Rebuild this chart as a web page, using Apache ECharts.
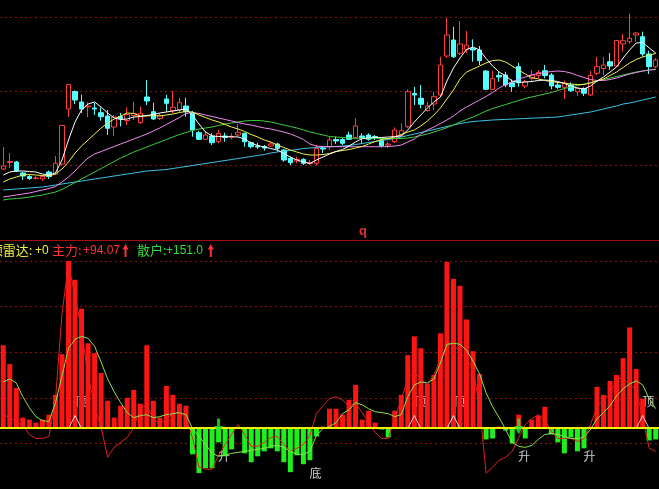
<!DOCTYPE html>
<html><head><meta charset="utf-8">
<script src="https://cdn.jsdelivr.net/npm/echarts@6.0.0/dist/echarts.min.js"></script>
<style>html,body{margin:0;padding:0;background:#000;overflow:hidden}#c{width:659px;height:489px}</style>
</head><body><div id="c"></div>
<script>
// ---------- DATA ----------
const opens = [13.10,13.75,13.80,12.70,12.35,12.15,12.10,12.80,12.60,13.60, 19.10,20.85,19.80,19.30,19.20,18.73,18.40,17.30,18.35,17.95, 18.45,17.75,20.30,18.83,18.15,20.10,18.93,19.00,19.40,18.67, 16.73,16.07,16.40,15.83,16.40,16.27,16.50,16.67,15.73,15.40, 15.35,15.40,15.60,15.00,14.17,13.90,14.07,13.65,13.67,15.20, 15.33,16.05,16.05,16.50,16.23,16.40,16.50,16.35,16.00,15.50, 15.83,16.50,17.33,20.65,20.17,18.95,19.60,20.50,24.40,26.00, 24.67,25.07,25.15,25.00,22.90,21.07,22.45,22.50,21.73,23.33, 21.40,22.17,22.45,22.93,22.50,21.50,21.27,21.50,20.83,21.15, 20.50,22.67,23.15,23.83,23.40,25.60,25.83,26.50,26.33,24.60, 23.33];
const closes = [13.40,13.85,12.90,12.40,12.15,12.20,12.35,12.35,13.67,17.45, 21.55,20.00,19.10,19.40,19.10,18.33,17.17,18.30,18.15,18.55, 18.65,18.67,19.90,18.10,18.45,19.67,19.27,19.73,18.83,17.00, 16.07,16.50,15.73,16.67,16.25,16.37,16.77,15.83,15.33,15.30, 15.20,15.60,15.17,14.00,13.73,14.05,13.67,13.75,15.17,15.10, 16.00,15.90,15.67,16.07,17.40,16.25,16.07,16.25,15.43,15.60, 17.00,16.93,20.83,20.50,19.57,19.40,20.33,23.50,26.50,24.33, 25.60,25.50,25.00,23.93,21.07,22.13,22.30,21.50,21.33,21.73, 21.83,22.50,22.75,22.45,21.40,21.27,21.65,20.93,21.17,20.67, 22.45,23.33,23.50,23.40,25.95,25.93,26.17,26.70,24.60,23.33, 24.00];
const lows = [13.00,13.20,12.80,12.00,12.00,12.05,11.90,12.10,12.50,13.50, 18.30,19.60,18.70,18.30,18.50,17.93,16.50,16.40,17.35,17.50, 18.00,17.60,19.50,18.00,18.00,18.83,18.70,18.80,18.33,16.33, 16.00,16.00,15.50,15.67,15.83,16.07,16.33,15.33,15.17,15.10, 14.93,15.33,14.83,13.83,13.50,13.67,13.50,13.50,13.50,14.70, 15.00,15.60,15.50,16.00,16.10,15.60,15.93,16.00,15.27,15.20, 15.70,16.40,17.20,19.50,19.17,18.83,19.00,20.30,24.20,24.20, 24.50,24.70,23.83,23.50,21.00,21.00,21.83,21.27,20.83,21.33, 21.17,21.83,22.20,22.17,21.07,21.07,20.10,20.80,20.40,20.40, 20.40,22.50,22.50,23.00,23.30,24.83,25.60,25.83,24.33,22.60, 23.20];
const highs = [15.30,14.70,13.90,12.80,12.50,12.40,12.50,12.95,14.40,17.50, 21.60,20.95,20.55,19.80,19.70,19.25,19.00,18.50,18.70,19.27, 19.83,19.33,22.00,19.73,18.70,20.50,20.90,20.23,20.23,18.90, 16.90,16.90,16.67,17.00,16.73,16.67,17.60,16.73,15.83,15.73, 15.50,15.83,15.73,15.10,14.33,14.33,14.17,14.00,15.50,15.40, 16.30,16.33,16.20,16.83,18.17,16.67,16.67,16.50,16.17,15.83, 17.27,17.67,21.07,21.30,21.50,19.83,20.83,24.33,28.17,27.33, 27.90,26.90,26.07,25.40,23.00,22.95,22.83,22.83,22.07,23.73, 22.00,23.00,23.00,23.50,22.70,21.80,21.95,21.77,21.27,21.27, 22.90,24.30,24.27,24.70,26.00,26.60,28.65,26.80,26.83,24.93, 24.20];

const ma5 = [12.5,12.8,12.9,12.9,12.85,12.8,12.6,12.5,12.7,14.0, 16.0,17.8,19.0,19.6,19.8,19.3,18.7,18.2,18.05,18.1, 18.3,18.35,18.45,18.55,18.7,18.8,18.9,19.0,19.1,18.5, 17.6,16.8,16.4,16.35,16.33,16.33,16.3,16.1,15.7,15.45, 15.3,15.15,15.0,14.65,14.3,14.0,13.8,13.65,14.0,14.3, 14.6,14.85,15.05,15.4,15.8,16.15,16.2,16.25,16.25,16.3, 16.33,16.4,17.0,17.8,18.5,19.2,19.8,20.3,21.9,23.2, 24.2,25.05,25.3,25.0,24.15,23.4,22.8,22.4,21.9,21.75, 21.8,21.85,21.95,22.0,21.95,21.85,21.65,21.4,21.2,21.1, 21.4,21.9,22.3,22.8,23.3,24.2,25.0,25.7,25.75,25.2, 24.7];
const ma10 = [11.8,12.1,12.3,12.5,12.55,12.5,12.45,12.4,12.6,13.1, 13.8,14.7,15.4,16.0,16.6,17.2,17.7,18.1,18.4,18.7, 18.65,18.4,18.4,18.45,18.4,18.5,18.6,18.75,18.85,18.8, 18.5,18.25,18.0,17.8,17.55,17.3,17.1,16.85,16.55,16.3, 16.0,15.8,15.5,15.25,15.0,14.8,14.6,14.5,14.5,14.55, 14.65,14.85,14.95,15.05,15.2,15.35,15.6,15.85,16.05,16.15, 16.3,16.55,16.8,17.0,17.4,17.9,18.5,19.2,20.1,21.0, 22.1,22.8,23.1,23.4,23.7,23.95,24.0,23.8,23.4,23.0, 22.6,22.25,22.1,21.95,21.85,21.75,21.7,21.6,21.55,21.55, 21.7,21.9,22.1,22.45,22.8,23.25,23.7,24.05,24.3,24.5, 24.65];
const ma20 = [10.3,10.4,10.5,10.6,10.7,10.85,11.0,11.15,11.35,11.8, 12.3,12.9,13.6,14.2,14.6,14.85,15.1,15.35,15.6,15.85, 16.1,16.35,16.6,16.9,17.2,17.55,17.9,18.25,18.65,18.75, 18.65,18.5,18.35,18.2,18.05,17.9,17.75,17.6,17.5,17.35, 17.2,17.1,16.95,16.8,16.6,16.35,16.05,15.6,15.4,15.33, 15.33,15.33,15.33,15.33,15.33,15.33,15.33,15.33,15.33,15.35, 15.4,15.5,15.8,16.1,16.6,17.0,17.3,17.65,18.0,18.4, 18.9,19.3,19.65,20.0,20.35,20.75,21.2,21.55,21.8,22.1, 22.3,22.5,22.65,22.75,22.85,22.9,22.85,22.7,22.45,22.25, 22.05,21.95,21.95,22.05,22.2,22.4,22.6,22.75,22.9,23.0, 23.05];
const ma60 = [10.0,10.1,10.15,10.2,10.3,10.4,10.5,10.65,10.8,11.05, 11.4,11.75,12.1,12.45,12.8,13.15,13.5,13.85,14.2,14.5, 14.8,15.05,15.3,15.55,15.8,16.05,16.3,16.55,16.75,16.95, 17.1,17.2,17.3,17.45,17.6,17.7,17.8,17.9,17.95,17.95, 17.9,17.8,17.65,17.5,17.35,17.2,17.0,16.8,16.65,16.5, 16.35,16.3,16.25,16.2,16.17,16.17,16.17,16.17,16.15,16.15, 16.15,16.15,16.2,16.3,16.45,16.6,16.8,17.0,17.25,17.5, 17.8,18.05,18.3,18.6,18.9,19.15,19.35,19.55,19.75,19.95, 20.15,20.3,20.45,20.6,20.75,20.95,21.15,21.3,21.45,21.6, 21.75,21.9,22.05,22.2,22.35,22.5,22.65,22.8,22.9,23.0, 23.1];
const ma120 = [11.0,11.05,11.1,11.15,11.2,11.25,11.3,11.4,11.5,11.6, 11.7,11.8,11.9,12.0,12.1,12.2,12.3,12.4,12.5,12.6, 12.7,12.8,12.9,12.95,13.0,13.05,13.15,13.25,13.35,13.45, 13.55,13.65,13.75,13.85,13.95,14.05,14.15,14.25,14.35,14.45, 14.55,14.7,14.8,14.9,14.95,15.05,15.15,15.2,15.25,15.3, 15.33,15.35,15.4,15.45,15.55,15.65,15.75,15.85,15.95,16.05, 16.15,16.3,16.45,16.6,16.75,16.9,17.05,17.2,17.35,17.5, 17.65,17.75,17.85,17.9,17.95,18.0,18.03,18.06,18.09,18.12, 18.15,18.18,18.21,18.24,18.27,18.3,18.4,18.5,18.6,18.7, 18.8,18.95,19.1,19.25,19.4,19.6,19.7,19.85,20.0,20.15, 20.3];

const radarBars = [83,64,40,10,8,5,8,13,33,74, 168,149,120,85,75,55,27,10,22,30, 38,24,83,27,10,42,33,24,22,-27, -46,-41,-41,-15,-29,-22,-1,-26,-35,-29, -24,-21,-24,-35,-45,-28,-37,-33,-9,1, 19,19,13,28,43,8,17,5,-2,-10, 17,33,73,92,80,44,53,95,167,150, 143,109,77,54,-12,-11,1,-3,-16,13, -11,8,12,21,-7,-15,-26,-10,-24,-21, 1,41,33,47,53,70,101,59,29,-13, -12];
const mainLine = [13,10,6,2,-7,-11,-11,-9,28,115, 165,133,98,52,22,0,-30,-20,-15,-10, 0,20,22,9,3,9,14,16,9,-10, -40,-42,-42,-28,-17,-7,3,-7,-19,-19, -15,-10,-9,-17,-24,-21,-17,-8,14,22, 29,31,28,21,25,15,5,-5,-11,-11, 9,28,49,56,49,43,53,69,83,84, 76,69,59,21,-46,-40,-33,-30,-24,-10, 3,9,13,8,-4,-11,-11,-11,-14,-11, 3,21,28,34,49,50,43,39,9,-21, -24];
const retailLine = [46,49,45,31,20,11,7,6,25,52, 80,89,92,90,82,66,49,36,25,15, 10,12,13,10,11,13,14,15,13,-1, -9,-17,-26,-29,-28,-26,-25,-24,-23,-22, -21,-19,-18,-20,-24,-27,-27,-24,-8,-1, 1,5,14,18,25,23,19,16,15,14, 11,13,31,43,46,45,49,65,84,85, 84,78,67,54,35,21,10,-2,-15,-19, -20,-18,-12,-7,-6,-7,-9,-11,-11,-10, -2,9,15,22,32,39,44,47,43,29, 19];

const topIdx = [11, 63, 69, 98];     // 顶
const riseIdx = [33, 79, 89];        // 升
const bottomIdx = [47];              // 底
const arrowIdx = [33, 79];           // green arrows

const categories = opens.map((_, i) => 'D' + (i + 1));

// ---------- CHART ----------
const kData = opens.map((o, i) => [o, closes[i], lows[i], highs[i]]);
const chart = echarts.init(document.getElementById('c'), null, {renderer: 'canvas'});
const dotted = {color: '#8c1212', type: [2, 3], width: 1};
const maLine = (data, color) => ({
  type: 'line', xAxisIndex: 0, yAxisIndex: 0, data, symbol: 'none', silent: true, z: 3, clip: false,
  lineStyle: {color, width: 1}
});
const cjk = '"Noto Sans CJK SC", "Liberation Sans", sans-serif';
const lat = '"Liberation Sans", "Noto Sans CJK SC", sans-serif';

chart.setOption({
  backgroundColor: '#000',
  animation: false,
  grid: [
    {left: 0, top: 17, width: 660.5, height: 222},
    {left: 0, top: 261, width: 660.5, height: 230}
  ],
  xAxis: [
    {type: 'category', gridIndex: 0, data: categories, boundaryGap: true,
     axisLine: {show: false}, axisTick: {show: false}, axisLabel: {show: false}, splitLine: {show: false}},
    {type: 'category', gridIndex: 1, data: categories, boundaryGap: true, z: 5,
     axisLine: {show: true, onZero: true, lineStyle: {color: '#f2f200', width: 2}},
     axisTick: {show: false}, axisLabel: {show: false}, splitLine: {show: false}}
  ],
  yAxis: [
    {type: 'value', gridIndex: 0, min: 6.1, max: 28.3, interval: 7.4,
     axisLine: {show: false}, axisTick: {show: false}, axisLabel: {show: false},
     splitLine: {show: true, showMinLine: false, lineStyle: dotted}},
    {type: 'value', gridIndex: 1, min: -62, max: 168, interval: 46,
     axisLine: {show: false}, axisTick: {show: false}, axisLabel: {show: false},
     splitLine: {show: true, showMinLine: false, lineStyle: dotted}}
  ],
  series: [
    {type: 'candlestick', xAxisIndex: 0, yAxisIndex: 0, data: kData, barWidth: 5, clip: false, z: 2,
     itemStyle: {color: '#000', color0: '#54ffff', borderColor: '#ff3c3c', borderColor0: '#54ffff', borderWidth: 1}},
    maLine(ma120, '#3fc4e6'),
    maLine(ma60, '#3fcc3f'),
    maLine(ma20, '#f08cf0'),
    maLine(ma10, '#f0f050'),
    maLine(ma5, '#ffffff'),
    // 顶 labels (drawn below bars)
    {type: 'scatter', xAxisIndex: 1, yAxisIndex: 1, z: 1, silent: true,
     data: topIdx.map(i => [i, 0]), symbolSize: 1, itemStyle: {color: 'transparent'},
     label: {show: true, formatter: '顶', position: [0, -26], align: 'left', verticalAlign: 'middle',
             color: '#fff', fontSize: 12, fontFamily: cjk}},
    {type: 'bar', xAxisIndex: 1, yAxisIndex: 1, data: radarBars, barWidth: 5, z: 2,
     itemStyle: {color: p => (p.value >= 0 ? '#ff1414' : '#1ef01e')}},
    {type: 'line', xAxisIndex: 1, yAxisIndex: 1, data: mainLine, symbol: 'none', z: 4, silent: true,
     lineStyle: {color: '#e02222', width: 1}},
    {type: 'line', xAxisIndex: 1, yAxisIndex: 1, data: retailLine, symbol: 'none', z: 4, silent: true,
     lineStyle: {color: '#8ee04a', width: 1}},
    // Λ markers
    {type: 'scatter', xAxisIndex: 1, yAxisIndex: 1, z: 6, silent: true,
     data: topIdx.map(i => [i, 0]), symbol: 'path://M0,12L6,0L12,12', symbolSize: [12, 12], symbolOffset: [0, -6],
     itemStyle: {color: 'none', borderColor: '#ffffff', borderWidth: 1}},
    // green arrows
    {type: 'scatter', xAxisIndex: 1, yAxisIndex: 1, z: 6, silent: true,
     data: arrowIdx.map(i => [i, 0]), symbol: 'path://M3,0L6,0L6,7L9,7L4.5,15L0,7L3,7Z', symbolSize: [9, 16], symbolOffset: [0, -1],
     itemStyle: {color: '#22ee22'}},
    // 升 / 底 labels
    {type: 'scatter', xAxisIndex: 1, yAxisIndex: 1, z: 1, silent: true,
     data: riseIdx.map(i => [i, 0]), symbolSize: 1, itemStyle: {color: 'transparent'},
     label: {show: true, formatter: '升', position: [0, 29], align: 'left', verticalAlign: 'middle',
             color: '#fff', fontSize: 12, fontFamily: cjk}},
    {type: 'scatter', xAxisIndex: 1, yAxisIndex: 1, z: 1, silent: true,
     data: bottomIdx.map(i => [i, 0]), symbolSize: 1, itemStyle: {color: 'transparent'},
     label: {show: true, formatter: '底', position: [0, 46], align: 'left', verticalAlign: 'middle',
             color: '#fff', fontSize: 12, fontFamily: cjk}}
  ],
  graphic: [
    {type: 'line', z: 10, shape: {x1: 0, y1: 240.5, x2: 659, y2: 240.5}, style: {stroke: '#a01010', lineWidth: 1}},
    {type: 'text', z: 10, x: 359, y: 231, style: {text: 'q', fill: '#e23030', font: 'bold 13px ' + lat, verticalAlign: 'middle'}},
    {type: 'text', z: 10, x: -10.3, y: 250.5, style: {text: '顶雷达:', fill: '#f0f040', font: '13px ' + cjk, verticalAlign: 'middle'}},
    {type: 'text', z: 10, x: 35, y: 250.5, style: {text: '+0', fill: '#f0f040', font: '12px ' + lat, verticalAlign: 'middle'}},
    {type: 'text', z: 10, x: 52, y: 250.5, style: {text: '主力:', fill: '#ff3333', font: '13px ' + cjk, verticalAlign: 'middle'}},
    {type: 'text', z: 10, x: 83, y: 250.5, style: {text: '+94.07', fill: '#ff3333', font: '12px ' + lat, verticalAlign: 'middle'}},
    {type: 'polygon', z: 10, shape: {points: [[125.5,244],[128.5,249.5],[126.5,249.5],[126.5,257],[124.5,257],[124.5,249.5],[122.5,249.5]]}, style: {fill: '#ff3333'}},
    {type: 'text', z: 10, x: 137, y: 250.5, style: {text: '散户:', fill: '#33dd33', font: '13px ' + cjk, verticalAlign: 'middle'}},
    {type: 'text', z: 10, x: 166, y: 250.5, style: {text: '+151.0', fill: '#33dd33', font: '12px ' + lat, verticalAlign: 'middle'}},
    {type: 'polygon', z: 10, shape: {points: [[210.8,244],[213.8,249.5],[211.8,249.5],[211.8,257],[209.8,257],[209.8,249.5],[207.8,249.5]]}, style: {fill: '#ff3333'}}
  ]
});
</script>
</body></html>
